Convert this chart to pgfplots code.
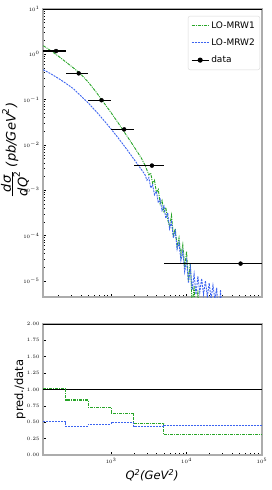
\documentclass[border=0pt]{standalone}
\usepackage{amsmath}
\usepackage{pgfplots}
\pgfplotsset{compat=1.18}
\usepackage{pgfplotstable}
\usepackage{fontspec}
\setmainfont{DejaVu Sans}
\definecolor{mgreen}{RGB}{40,165,40}
\definecolor{mblue}{RGB}{60,100,240}

% log10(Q^2)  log10(dsigma/dQ^2)
\pgfplotstableread{
L S
2.10 0.19
2.20 0.08
2.30 -0.04
2.40 -0.17
2.50 -0.30
2.60 -0.44
2.70 -0.62
2.80 -0.83
2.90 -1.06
3.00 -1.29
3.10 -1.53
3.20 -1.78
3.30 -2.03
3.40 -2.29
3.45 -2.45
3.50 -2.66
3.525 -2.62
3.55 -2.85
3.575 -2.78
3.60 -3.05
3.625 -2.98
3.65 -3.30
3.675 -3.22
3.70 -3.50
3.725 -3.38
3.75 -3.65
3.775 -3.80
3.80 -3.55
3.825 -4.00
3.85 -3.85
3.875 -4.25
3.90 -4.05
3.925 -4.45
3.95 -4.20
3.975 -4.70
4.00 -4.35
4.025 -5.00
4.05 -4.60
4.075 -5.60
4.10 -5.10
4.125 -6.00
4.15 -5.20
4.175 -6.00
}\greentab

\pgfplotstableread{
L S
2.10 -0.34
2.20 -0.43
2.30 -0.53
2.40 -0.64
2.50 -0.76
2.60 -0.92
2.70 -1.08
2.80 -1.26
2.90 -1.45
3.00 -1.65
3.10 -1.86
3.20 -2.08
3.30 -2.31
3.40 -2.54
3.45 -2.66
3.475 -2.78
3.50 -2.72
3.525 -2.95
3.55 -2.88
3.575 -3.10
3.60 -3.02
3.625 -3.28
3.65 -3.20
3.675 -3.45
3.70 -3.35
3.725 -3.62
3.75 -3.50
3.775 -3.85
3.80 -3.70
3.825 -4.05
3.85 -3.90
3.875 -4.30
3.90 -4.15
3.925 -4.55
3.95 -4.35
3.975 -4.80
4.00 -4.55
4.025 -5.05
4.05 -4.70
4.075 -5.20
4.10 -4.85
4.125 -5.30
4.15 -4.90
4.175 -5.25
4.20 -4.95
4.225 -5.30
4.25 -5.00
4.275 -5.35
4.30 -5.05
4.325 -5.40
4.35 -5.10
4.375 -5.40
4.40 -5.15
4.425 -6.00
4.45 -5.20
4.475 -6.00
}\bluetab

\pgfplotstableread{
x y em ep
186 1.18 61 64
372 0.38 122 128
745 0.097 245 255
1490 0.022 490 510
3470 0.0035 1470 1530
52000 2.4e-5 47000 48000
}\datatab

\pgfplotstableread{
x g b
125 1.02 0.51
250 0.84 0.44
500 0.73 0.47
1000 0.63 0.50
2000 0.48 0.43
5000 0.31 0.45
100000 0.31 0.45
}\ratiotab

\begin{document}
\begin{tikzpicture}
\useasboundingbox (0,0) rectangle (272pt,490pt);

\begin{axis}[
  scale only axis, width=219pt, height=288pt,
  at={(43pt,193pt)}, anchor=south west,
  xmode=log, ymode=log,
  xmin=125, xmax=100000, ymin=4.4e-6, ymax=10,
  tick pos=left, tick align=inside,
  major tick length=3pt, minor tick length=1.6pt,
  tick style={black, line width=0.5pt},
  axis line style={gray!65, line width=1.1pt},
  tick label style={font=\fontsize{5}{6}\selectfont},
  ytick={1e-5,1e-4,1e-3,1e-2,1e-1,1,10},
  xticklabels={},
  ylabel={$\frac{\mbox{\itshape dσ}}{\mbox{\itshape dQ}^{\mbox{\fontsize{9}{10}\selectfont 2}}}\;\mbox{\itshape (pb/GeV}^{\mbox{\fontsize{9}{10}\selectfont 2}}\mbox{\itshape )}$},
  ylabel style={at={(axis description cs:-0.128,0.51)}, anchor=center, font=\fontsize{13}{15}\selectfont},
  legend style={at={(0.991,0.976)}, anchor=north east,
    draw=gray!30, rounded corners=2pt, fill=white,
    font=\fontsize{9}{11}\selectfont, row sep=5pt, inner xsep=3pt, inner ysep=3.5pt},
  legend cell align=left,
  after end axis/.code={\draw[black, line width=0.9pt] (rel axis cs:0,1) -- (rel axis cs:1,1);},
]
\addplot[mgreen, line width=0.9pt, dash pattern=on 3pt off 1pt on 1pt off 1pt]
  table[x expr={10^(\thisrow{L})}, y expr={10^(\thisrow{S})}] {\greentab};
\addlegendentry{LO-MRW1}
\addplot[mblue, line width=0.9pt, dash pattern=on 2pt off 1pt]
  table[x expr={10^(\thisrow{L})}, y expr={10^(\thisrow{S})}] {\bluetab};
\addlegendentry{LO-MRW2}
\addplot[black, mark=*, mark size=2pt, only marks, forget plot,
  error bars/.cd, x dir=both, x explicit,
  error bar style={line width=1.2pt, black}, error mark=none]
  table[x=x, y=y, x error plus=ep, x error minus=em] {\datatab};
\addlegendimage{black, line width=1.1pt, mark=*, mark size=2pt}
\addlegendentry{data}
\end{axis}

\begin{axis}[
  scale only axis, width=219pt, height=131pt,
  at={(43pt,35pt)}, anchor=south west,
  xmode=log, xmin=125, xmax=100000,
  ymin=0, ymax=2,
  tick pos=left, tick align=inside,
  major tick length=3pt, minor tick length=1.6pt,
  tick style={black, line width=0.5pt},
  axis line style={gray!65, line width=1.1pt},
  tick label style={font=\fontsize{5}{6}\selectfont},
  ytick={0,0.25,0.5,0.75,1,1.25,1.5,1.75,2},
  yticklabel style={/pgf/number format/.cd, fixed, fixed zerofill, precision=2},
  xtick={1000,10000,100000},
  xlabel={\itshape Q\textsuperscript{2}(GeV\textsuperscript{2})},
  xlabel style={at={(axis description cs:0.498,-0.155)}, anchor=center, font=\fontsize{11.5}{13}\selectfont},
  ylabel={pred./data},
  ylabel style={at={(axis description cs:-0.105,0.5)}, anchor=center, font=\fontsize{11.5}{13}\selectfont},
  after end axis/.code={\draw[black, line width=0.9pt] (rel axis cs:0,1) -- (rel axis cs:1,1);},
]
\addplot[black, line width=1.1pt] coordinates {(125,1) (100000,1)};
\addplot[mgreen, line width=1.1pt, dash pattern=on 3pt off 1pt on 1pt off 1pt, const plot]
  table[x=x, y=g] {\ratiotab};
\addplot[mblue, line width=1.1pt, dash pattern=on 2pt off 1pt, const plot]
  table[x=x, y=b] {\ratiotab};
\end{axis}
\end{tikzpicture}
\end{document}
